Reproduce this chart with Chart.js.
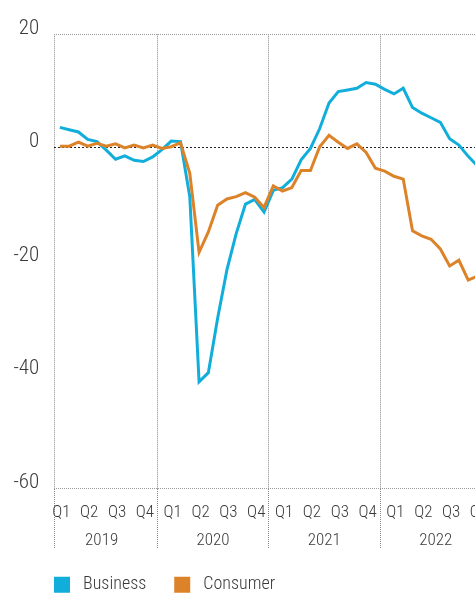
<!DOCTYPE html>
<html>
<head>
<meta charset="utf-8">
<script src="https://cdn.jsdelivr.net/npm/chart.js@4.4.0/dist/chart.umd.min.js"></script>
<style>
  html, body { margin: 0; padding: 0; overflow: hidden; background: #fff; }
  canvas { display: block; }
</style>
</head>
<body>
<canvas id="chart" width="530" height="610"></canvas>
<script>
// monthly readings, Feb 2019 .. Nov 2022 (month 0 = Jan 2019)
var startMonth = 1;
var business = [3.6, 3.2, 2.8, 1.5, 1.1, -0.4, -2.0, -1.4, -2.2, -2.4, -1.6,
  -0.3, 1.2, 1.1, -8.6, -41.2, -39.6, -30.0, -21.5, -15.1, -9.9, -9.1, -11.3,
  -7.5, -7.0, -5.5, -2.1, -0.1, 3.4, 7.9, 9.9, 10.2, 10.5, 11.5, 11.2,
  10.3, 9.5, 10.5, 7.1, 6.1, 5.3, 4.5, 1.6, 0.5, -1.5, -3.2];
var consumer = [0.3, 0.3, 1.0, 0.3, 0.8, 0.3, 0.7, 0.0, 0.5, 0.0, 0.5,
  -0.1, 0.2, 0.9, -4.5, -18.4, -14.8, -10.1, -9.0, -8.6, -7.9, -8.7, -10.5,
  -6.7, -7.6, -7.0, -4.0, -4.0, 0.2, 2.2, 1.0, -0.1, 0.7, -0.8, -3.6,
  -4.1, -5.0, -5.5, -14.6, -15.5, -16.1, -17.8, -20.8, -19.8, -23.3, -22.6];
var years = ['2019', '2020', '2021', '2022'];
var quarters = ['Q1', 'Q2', 'Q3', 'Q4'];
var yTicks = [20, 0, -20, -40, -60];

var font = '"Roboto Condensed", "Liberation Sans Narrow", "DejaVu Sans Condensed", Roboto, sans-serif';
var textColor = '#3a3a3a';
var blue = '#12aedb';
var orange = '#dc8329';
var xMin = 0.9, xMax = 48;

function toPoints(values) {
  return values.map(function(v, i) {
    return {x: startMonth + i + 0.5, y: v};
  });
}

function isBoundary(ctx) {
  if (!ctx.tick) return false;
  var v = ctx.tick.value;
  return v === xMin || v % 12 === 0;
}

var ctx = document.getElementById('chart').getContext('2d');
new Chart(ctx, {
  type: 'line',
  data: {
    datasets: [
      {label: 'Business', data: toPoints(business), borderColor: blue, backgroundColor: blue,
        borderWidth: 3, pointRadius: 0, order: 1},
      {label: 'Consumer', data: toPoints(consumer), borderColor: orange, backgroundColor: orange,
        borderWidth: 3, pointRadius: 0, order: 0}
    ]
  },
  options: {
    responsive: false,
    animation: false,
    devicePixelRatio: 1,
    layout: {padding: {top: 34.3, left: 26, right: 38.6, bottom: 6.3}},
    plugins: {
      tooltip: {enabled: false},
      legend: {
        position: 'bottom',
        align: 'start',
        labels: {
          boxWidth: 16, boxHeight: 16, padding: 28, color: textColor,
          font: {family: font, size: 18, weight: '300'},
          sort: function(a, b) { return a.datasetIndex - b.datasetIndex; },
          generateLabels: function(chart) {
            return Chart.defaults.plugins.legend.labels.generateLabels(chart).map(function(item) {
              item.lineWidth = 0;
              item.text = ' ' + item.text;
              return item;
            });
          }
        }
      }
    },
    scales: {
      x: {
        type: 'linear', min: xMin, max: xMax,
        afterBuildTicks: function(axis) {
          var vals = [xMin];
          years.forEach(function(y, yi) {
            quarters.forEach(function(q, qi) { vals.push(yi * 12 + qi * 3 + 1.5); });
            vals.push((yi + 1) * 12);
          });
          vals.sort(function(a, b) { return a - b; });
          axis.ticks = vals.map(function(v) { return {value: v}; });
        },
        afterFit: function(axis) { axis.height = 40; },
        ticks: {
          autoSkip: false, maxRotation: 0, minRotation: 0, padding: -46.4, labelOffset: 1.5,
          color: textColor, font: {family: font, size: 17, weight: '300'},
          callback: function(v) {
            if (v % 3 !== 1.5) return '';
            return quarters[Math.floor((v % 12) / 3)];
          }
        },
        grid: {
          color: function(c) { return isBoundary(c) ? '#8a8a8a' : 'rgba(0,0,0,0)'; },
          tickColor: function(c) { return isBoundary(c) ? '#8a8a8a' : 'rgba(0,0,0,0)'; },
          tickLength: 60,
          tickBorderDash: [1, 1]
        },
        border: {display: false, dash: [1, 1]}
      },
      year: {
        type: 'linear', position: 'bottom', min: xMin, max: xMax,
        afterBuildTicks: function(axis) {
          axis.ticks = years.map(function(y, i) { return {value: i * 12 + 6}; });
        },
        afterFit: function(axis) { axis.height = 19.2; },
        ticks: {
          autoSkip: false, maxRotation: 0, minRotation: 0, padding: 2.2,
          color: textColor, font: {family: font, size: 17, weight: '300'},
          callback: function(v) { return years[(v - 6) / 12]; }
        },
        grid: {display: false, drawTicks: false},
        border: {display: false}
      },
      y: {
        min: -60, max: 20,
        afterBuildTicks: function(axis) {
          axis.ticks = yTicks.map(function(v) { return {value: v}; });
        },
        afterFit: function(axis) {
          axis.width = 28.3;
          // labels sit left of the axis box, so skip its label clipping
          axis._computeLabelArea = function() { return undefined; };
        },
        ticks: {
          padding: 15, labelOffset: -6, color: textColor,
          font: {family: font, size: 21, weight: '300'}
        },
        grid: {
          drawTicks: false,
          color: function(c) {
            if (!c.tick) return 'rgba(0,0,0,0)';
            if (c.tick.value === 0) return '#222';
            if (c.tick.value === 20 || c.tick.value === -60) return '#9a9a9a';
            return 'rgba(0,0,0,0)';
          }
        },
        border: {
          display: false,
          dash: function(c) { return (c.tick && c.tick.value === 0) ? [2, 2] : [1, 1]; }
        }
      }
    }
  }
});
</script>
</body>
</html>
